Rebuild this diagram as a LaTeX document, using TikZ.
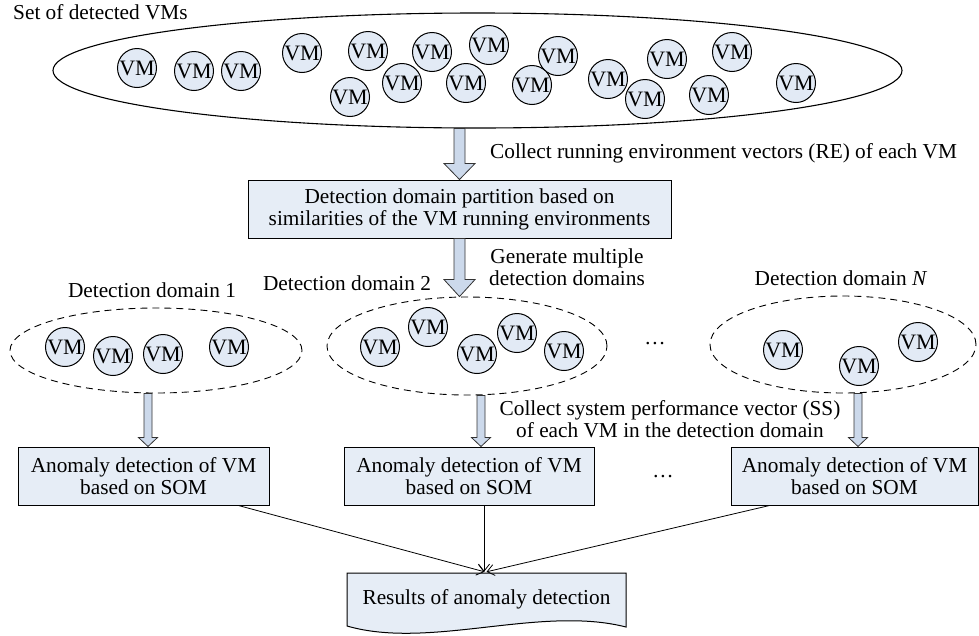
\documentclass[tikz,border=0pt]{standalone}
\usepackage{fontspec}
\setmainfont{Liberation Serif}
\usetikzlibrary{shapes.geometric,arrows.meta,calc}
\definecolor{vmfill}{RGB}{226,234,245}
\definecolor{boxfill}{RGB}{230,237,246}
\definecolor{arrfill}{RGB}{204,217,235}
\newcommand{\vmtxt}{\makebox[8pt]{VM}}
\newcommand{\blkarrow}[5]{\path[blockarr] let \p1=#1, \p2=#2 in (\x2-#3,\y1) -- (\x2+#3,\y1) -- (\x2+#3,\y2+#5) -- (\x2+#4,\y2+#5) -- (\x2,\y2) -- (\x2-#4,\y2+#5) -- (\x2-#3,\y2+#5) -- cycle;}
\begin{document}
\begin{tikzpicture}[x=1pt,y=-1pt,
  txt/.style={font=\fontsize{21.3}{22}\selectfont, inner sep=0pt},
  vm/.style={circle, draw, line width=1pt, fill=vmfill, minimum size=39pt, inner sep=0pt, font=\fontsize{22}{22}\selectfont},
  procbox/.style={draw, line width=1pt, fill=boxfill, inner sep=0pt, align=center, font=\fontsize{21.3}{22}\selectfont},
  domainell/.style={ellipse, draw, line width=0.9pt, dash pattern=on 7pt off 5pt, inner sep=0pt},
  blockarr/.style={draw=black!80, line width=0.8pt, fill=arrfill, line join=miter},
  link/.style={line width=0.8pt, -{Straight Barb[length=7pt,width=11pt]}}
]
\useasboundingbox (0,0) rectangle (979,635);
\fill[white] (0,0) rectangle (979,635);

% top set
\node[ellipse, draw, line width=1.1pt, minimum width=849pt, minimum height=115pt, inner sep=0pt] (all) at (477.5,70.5) {};
\node[txt, anchor=base west] (settitle) at (13,19) {Set of detected VMs};
\foreach \x/\y [count=\i] in {137/68, 194/71, 241/71, 302/53, 368/51, 432/52, 489/45, 350/97, 402/83, 466/83, 558/56, 532/85, 608/79, 645/99, 667/59, 732/52, 709/95, 796/83}
  \node[vm] (t\i) at (\x,\y) {\vmtxt};

% partition box
\node[procbox, minimum width=423pt, minimum height=58pt] (part) at (459.5,209) {Detection domain partition based on\\similarities of the VM running environments};
\node[txt, anchor=base west] (lre) at (490,158) {Collect running environment vectors (RE) of each VM};
\blkarrow{(part.north |- all.south)}{(part.north)}{5.5pt}{15.5pt}{16pt}

% domains
\node[domainell, minimum width=292pt, minimum height=85pt] (d1) at (156,350.5) {};
\node[domainell, minimum width=280pt, minimum height=98pt] (d2) at (467,346) {};
\node[domainell, minimum width=266pt, minimum height=97pt] (dn) at (843,344.5) {};
\blkarrow{(part.south)}{(part.south |- d2.north)}{5.5pt}{15.5pt}{17pt}
\node[txt, align=center] (lgen) at (567,267) {Generate multiple\\detection domains};
\node[txt, anchor=base] (ld1) at (152,297) {Detection domain 1};
\node[txt, anchor=base] (ld2) at (347,290) {Detection domain 2};
\node[txt, anchor=base] (ldn) at (841,285) {Detection domain \textit{N}};

\foreach \x/\y [count=\i] in {65/347, 113/356, 163/354, 229/347}
  \node[vm] (a\i) at (\x,\y) {\vmtxt};
\foreach \x/\y [count=\i] in {380/347, 428/327, 477/354, 517/333, 564/351}
  \node[vm] (b\i) at (\x,\y) {\vmtxt};
\foreach \x/\y [count=\i] in {783/350, 859/366, 918/342}
  \node[vm] (c\i) at (\x,\y) {\vmtxt};
\node[txt, anchor=base] (dots1) at (655,344) {\dots};

% anomaly boxes
\node[procbox, minimum width=251pt, minimum height=58pt] (an1) at (143.5,476) {Anomaly detection of VM\\based on SOM};
\node[procbox, minimum width=250pt, minimum height=58pt] (an2) at (469,476) {Anomaly detection of VM\\based on SOM};
\node[procbox, minimum width=247pt, minimum height=58pt] (ann) at (854.5,476) {Anomaly detection of VM\\based on SOM};
\node[txt, anchor=base] (dots2) at (663,477) {\dots};
\node[txt, align=center] (lss) at (670,419) {Collect system performance vector (SS)\\of each VM in the detection domain};

\blkarrow{([xshift=4.5pt]an1.north |- d1.south)}{([xshift=4.5pt]an1.north)}{4pt}{9.5pt}{9pt}
\blkarrow{([xshift=12pt]an2.north |- d2.south)}{([xshift=12pt]an2.north)}{4pt}{9.5pt}{9pt}
\blkarrow{([xshift=3.5pt]ann.north |- dn.south)}{([xshift=3.5pt]ann.north)}{4pt}{9.5pt}{9pt}

% results
\path[draw, line width=1pt, fill=boxfill] (347,573) -- (626,573) -- (626,627) .. controls (540,605) and (430,650) .. (347,626) -- cycle;
\node[txt, minimum width=279pt, minimum height=54pt] (res) at (486.5,599) {Results of anomaly detection};

\draw[link] ([xshift=-31pt]an1.south east) -- ([xshift=-2pt]res.north);
\draw[link] ([xshift=15pt]an2.south) -- ([xshift=15pt]an2.south |- res.north);
\draw[link] ([xshift=39pt]ann.south west) -- (res.north);
\end{tikzpicture}
\end{document}
